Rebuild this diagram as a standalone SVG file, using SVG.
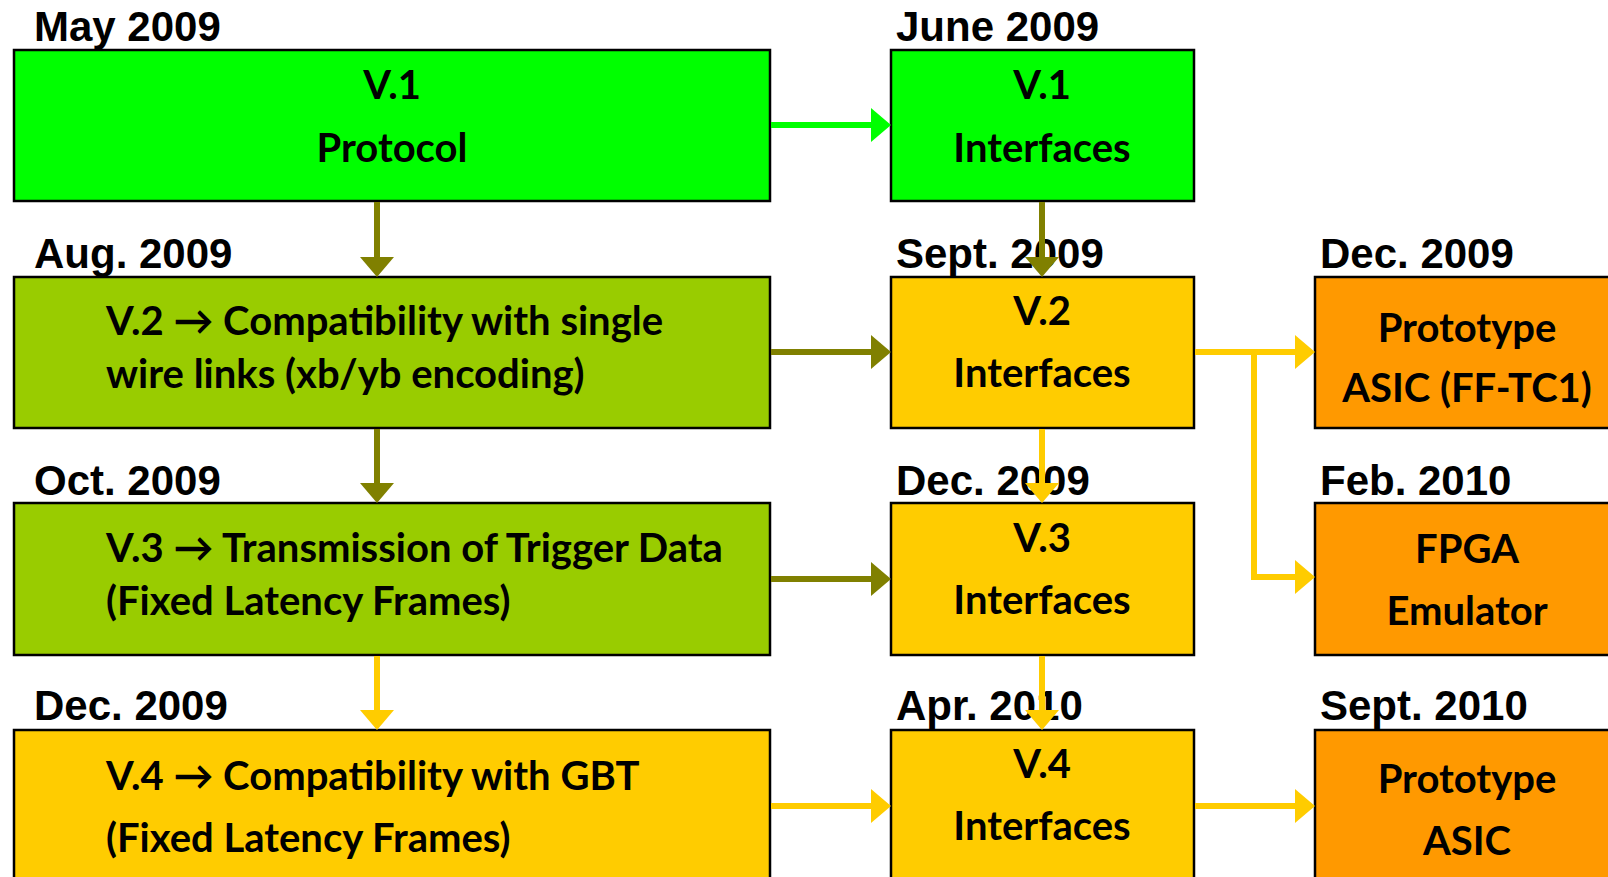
<svg xmlns="http://www.w3.org/2000/svg" width="1608" height="877" viewBox="0 0 1608 877">
<style>
.box{stroke:#000;stroke-width:2.5}
.g{fill:#00FF00}.o{fill:#99CC00}.y{fill:#FFCC00}.r{fill:#FF9900}
.date{font-family:"Liberation Sans",Arial,sans-serif;font-weight:bold;font-size:42px;fill:#000}
.t{font-family:Lato,"Open Sans",sans-serif;font-weight:bold;font-size:40px;fill:#000}
.c{text-anchor:middle}
.cg{stroke:#00FF00;stroke-width:6;fill:none}
.co{stroke:#808000;stroke-width:6;fill:none}
.cy{stroke:#FFCC00;stroke-width:6;fill:none}
</style>
<defs>
<marker id="ag" markerUnits="userSpaceOnUse" markerWidth="20" markerHeight="34" refX="0" refY="17" orient="auto" overflow="visible"><path d="M0,0 L20,17 L0,34 z" fill="#00FF00"/></marker>
<marker id="ao" markerUnits="userSpaceOnUse" markerWidth="20" markerHeight="34" refX="0" refY="17" orient="auto" overflow="visible"><path d="M0,0 L20,17 L0,34 z" fill="#808000"/></marker>
<marker id="ay" markerUnits="userSpaceOnUse" markerWidth="20" markerHeight="34" refX="0" refY="17" orient="auto" overflow="visible"><path d="M0,0 L20,17 L0,34 z" fill="#FFCC00"/></marker>
</defs>
<rect width="1608" height="877" fill="#fff"/>

<g id="v1-protocol">
<text class="date" x="34" y="41">May 2009</text>
<rect class="box g" x="14" y="50" width="756" height="151"/>
<text class="t c" x="392" y="99">V.1</text>
<text class="t c" x="392" y="162">Protocol</text>
</g>
<g id="v1-interfaces">
<text class="date" x="896" y="41">June 2009</text>
<rect class="box g" x="891" y="50" width="303" height="151"/>
<text class="t c" x="1042" y="99">V.1</text>
<text class="t c" x="1042" y="162">Interfaces</text>
</g>
<g id="v2-protocol">
<text class="date" x="34" y="268">Aug. 2009</text>
<rect class="box o" x="14" y="277" width="756" height="151"/>
<text class="t" x="106" y="335">V.2 → Compatibility with single</text>
<text class="t" x="106" y="388">wire links (xb/yb encoding)</text>
</g>
<g id="v2-interfaces">
<text class="date" x="896" y="268">Sept. 2009</text>
<rect class="box y" x="891" y="277" width="303" height="151"/>
<text class="t c" x="1042" y="325">V.2</text>
<text class="t c" x="1042" y="387">Interfaces</text>
</g>
<g id="proto-asic-fftc1">
<text class="date" x="1320" y="268">Dec. 2009</text>
<rect class="box r" x="1315" y="277" width="310" height="151"/>
<text class="t c" x="1467" y="342">Prototype</text>
<text class="t c" x="1467" y="402">ASIC (FF-TC1)</text>
</g>
<g id="v3-protocol">
<text class="date" x="34" y="495">Oct. 2009</text>
<rect class="box o" x="14" y="503" width="756" height="152"/>
<text class="t" x="106" y="562">V.3 → Transmission of Trigger Data</text>
<text class="t" x="106" y="615">(Fixed Latency Frames)</text>
</g>
<g id="v3-interfaces">
<text class="date" x="896" y="495">Dec. 2009</text>
<rect class="box y" x="891" y="503" width="303" height="152"/>
<text class="t c" x="1042" y="552">V.3</text>
<text class="t c" x="1042" y="614">Interfaces</text>
</g>
<g id="fpga-emulator">
<text class="date" x="1320" y="495">Feb. 2010</text>
<rect class="box r" x="1315" y="503" width="310" height="152"/>
<text class="t c" x="1467" y="563">FPGA</text>
<text class="t c" x="1467" y="625">Emulator</text>
</g>
<g id="v4-protocol">
<text class="date" x="34" y="720">Dec. 2009</text>
<rect class="box y" x="14" y="730" width="756" height="170"/>
<text class="t" x="106" y="790">V.4 → Compatibility with GBT</text>
<text class="t" x="106" y="852">(Fixed Latency Frames)</text>
</g>
<g id="v4-interfaces">
<text class="date" x="896" y="720">Apr. 2010</text>
<rect class="box y" x="891" y="730" width="303" height="170"/>
<text class="t c" x="1042" y="778">V.4</text>
<text class="t c" x="1042" y="840">Interfaces</text>
</g>
<g id="proto-asic">
<text class="date" x="1320" y="720">Sept. 2010</text>
<rect class="box r" x="1315" y="730" width="310" height="170"/>
<text class="t c" x="1467" y="793">Prototype</text>
<text class="t c" x="1467" y="855">ASIC</text>
</g>

<g id="connectors">
<path class="cg" d="M771,125 H871" marker-end="url(#ag)"/>
<path class="co" d="M377,202 V257" marker-end="url(#ao)"/>
<path class="co" d="M1042,202 V257" marker-end="url(#ao)"/>
<path class="co" d="M771,352 H871" marker-end="url(#ao)"/>
<path class="co" d="M377,429 V483" marker-end="url(#ao)"/>
<path class="cy" d="M1195,352 H1295" marker-end="url(#ay)"/>
<path class="cy" d="M1254,352 V577 H1295" marker-end="url(#ay)"/>
<path class="cy" d="M1042,429 V483" marker-end="url(#ay)"/>
<path class="co" d="M771,579 H871" marker-end="url(#ao)"/>
<path class="cy" d="M377,656 V710" marker-end="url(#ay)"/>
<path class="cy" d="M1042,656 V710" marker-end="url(#ay)"/>
<path class="cy" d="M771,806 H871" marker-end="url(#ay)"/>
<path class="cy" d="M1195,806 H1295" marker-end="url(#ay)"/>
</g>
</svg>
